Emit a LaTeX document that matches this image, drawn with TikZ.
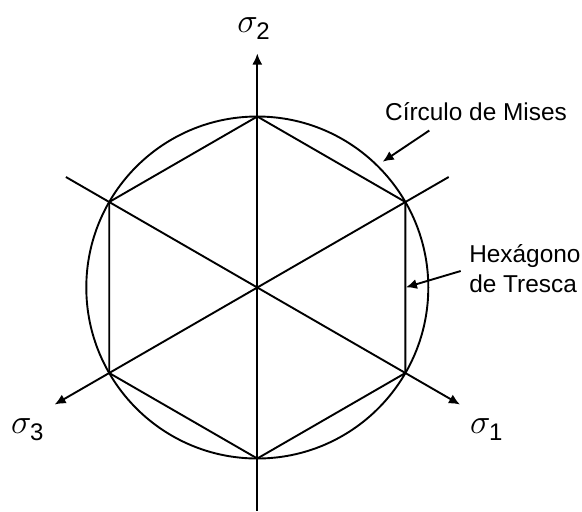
\documentclass[tikz,border=0pt]{standalone}
\usepackage{fontspec}
\setmainfont{Liberation Sans}
\usetikzlibrary{arrows.meta}
\newcommand{\sig}[1]{{\fontsize{19}{19}\selectfont$\sigma$}\kern-0.8pt\raisebox{-3.5pt}{\fontsize{12}{12}\selectfont #1}}

\begin{document}
\begin{tikzpicture}[x=0.5pt,y=0.5pt,line width=0.95pt,
    tip/.style={-{Latex[length=5.5pt,width=5pt]}},
    txt/.style={font=\fontsize{12.2}{15}\selectfont}]
        \useasboundingbox (-257.3,-223.5) rectangle (324.7,287.5);
        \coordinate (o) at (0,0);
        % hexagon corners
        \foreach \a [count=\i] in {90,30,-30,-90,-150,150}
            \coordinate (v\i) at (\a:171);
        % axis ends
        \coordinate (s2) at (90:234);
        \coordinate (s1) at (-30:234);
        \coordinate (s3) at (-150:234);
        \coordinate (e1) at (30:221);
        \coordinate (e2) at (150:221);
        \coordinate (e3) at (0,-223.5);
        \draw[tip] (o) -- (s2);
        \draw[tip] (o) -- (s1);
        \draw[tip] (o) -- (s3);
        \draw (o) -- (e1);
        \draw (o) -- (e2);
        \draw (o) -- (e3);
        \draw (o) circle (171);
        \draw (v1) -- (v2) -- (v3) -- (v4) -- (v5) -- (v6) -- cycle;
        \node (l2) at (-3.8,258.5) {\sig{2}};
        \node (l1) at (229,-142.5) {\sig{1}};
        \node (l3) at (-230,-142.5) {\sig{3}};
        \node[txt] (mises) at (218.7,175.5) {Círculo de Mises};
        \node[txt,anchor=west,align=left,inner sep=0] (tresca) at (211,18.5) {Hexágono\\de Tresca};
        \coordinate (m0) at (172,157);
        \coordinate (m1) at (125.4,125.8);
        \coordinate (t0) at (203.4,16.5);
        \coordinate (t1) at (148.6,0.2);
        \draw[tip] (m0) -- (m1);
        \draw[tip] (t0) -- (t1);
    \end{tikzpicture}
\end{document}
